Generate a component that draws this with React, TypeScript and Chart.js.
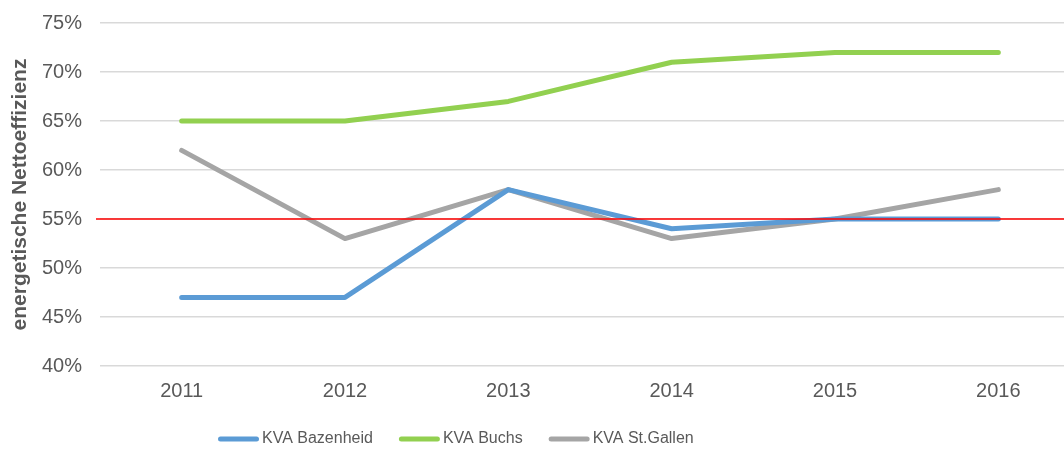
import React, { useEffect, useRef } from "react";
import { Chart, registerables } from "chart.js";

Chart.register(...registerables);

const years = ["2011", "2012", "2013", "2014", "2015", "2016"];
const bazenheid = [47, 47, 58, 54, 55, 55];
const buchs = [65, 65, 67, 71, 72, 72];
const stGallen = [62, 53, 58, 53, 55, 58];
const targetValue = 55;
const yMin = 40;
const yMax = 75;
const yStep = 5;
const seriesNames = ["KVA Bazenheid", "KVA Buchs", "KVA St.Gallen"];
const seriesColors = ["#5B9BD5", "#92D050", "#A5A5A5"];
const yTitle = "energetische Nettoeffizienz";

const FONT = "'Liberation Sans', Arial, sans-serif";
const TEXT = "#595959";

const targetLinePlugin = {
  id: "targetLine",
  afterDatasetsDraw(chart: any) {
    const { ctx, chartArea, scales } = chart;
    const y = scales.y.getPixelForValue(targetValue);
    ctx.save();
    ctx.strokeStyle = "#FF0000";
    ctx.lineWidth = 1.3;
    ctx.beginPath();
    ctx.moveTo(chartArea.left - 4, y);
    ctx.lineTo(chartArea.right, y);
    ctx.stroke();
    ctx.restore();
  },
};

const legendPlugin = {
  id: "customLegend",
  afterDraw(chart: any) {
    const { ctx } = chart;
    ctx.save();
    ctx.font = `16px ${FONT}`;
    ctx.textBaseline = "middle";
    ctx.textAlign = "left";
    let x = 218;
    const y = 439;
    chart.data.datasets.forEach((ds: any) => {
      ctx.strokeStyle = ds.borderColor;
      ctx.lineWidth = 5;
      ctx.lineCap = "round";
      ctx.beginPath();
      ctx.moveTo(x + 2.5, y);
      ctx.lineTo(x + 38.5, y);
      ctx.stroke();
      ctx.fillStyle = TEXT;
      ctx.fillText(ds.label, x + 44, y);
      x += 44 + ctx.measureText(ds.label).width + 26;
    });
    ctx.restore();
  },
};

export default function App() {
  const ref = useRef<HTMLCanvasElement | null>(null);

  useEffect(() => {
    if (!ref.current) return;
    const mk = (label: string, data: number[], color: string) => ({
      label,
      data,
      borderColor: color,
      backgroundColor: color,
      borderWidth: 5,
      borderCapStyle: "round" as const,
      borderJoinStyle: "round" as const,
      pointRadius: 0,
      pointHoverRadius: 0,
      tension: 0,
      fill: false,
    });
    const chart = new Chart(ref.current, {
      type: "line",
      data: {
        labels: years,
        datasets: [
          mk(seriesNames[0], bazenheid, seriesColors[0]),
          mk(seriesNames[1], buchs, seriesColors[1]),
          mk(seriesNames[2], stGallen, seriesColors[2]),
        ],
      },
      options: {
        animation: false,
        responsive: false,
        layout: { padding: { top: 23, bottom: 49, left: 0, right: 0 } },
        plugins: {
          legend: { display: false },
          tooltip: { enabled: false },
        },
        scales: {
          x: {
            offset: true,
            grid: { display: false, drawTicks: false },
            border: { display: false },
            ticks: {
              color: TEXT,
              font: { family: FONT, size: 20 },
              padding: 13,
              maxRotation: 0,
            },
            afterFit(scale: any) {
              scale.height = 34;
              scale.paddingLeft = 0;
              scale.paddingRight = 0;
            },
          },
          y: {
            min: yMin,
            max: yMax,
            grid: { color: "#D9D9D9", lineWidth: 1.4, drawTicks: false },
            border: { display: false },
            ticks: {
              stepSize: yStep,
              color: TEXT,
              font: { family: FONT, size: 20 },
              padding: 18,
              callback: (v: any) => `${v}%`,
            },
            title: {
              display: true,
              text: yTitle,
              color: TEXT,
              font: { family: FONT, size: 21, weight: "bold" },
              padding: { top: 8, bottom: 0 },
            },
            afterFit(scale: any) {
              scale.width = 100;
              scale.paddingTop = 0;
              scale.paddingBottom = 0;
            },
          },
        },
      },
      plugins: [targetLinePlugin, legendPlugin],
    });
    return () => chart.destroy();
  }, []);

  return (
    <div
      style={{
        position: "absolute",
        left: 0,
        top: 0,
        width: 1064,
        height: 449,
        overflow: "hidden",
        background: "#fff",
      }}
    >
      <canvas ref={ref} width={1080} height={449} style={{ width: 1080, height: 449, display: "block" }} />
    </div>
  );
}
